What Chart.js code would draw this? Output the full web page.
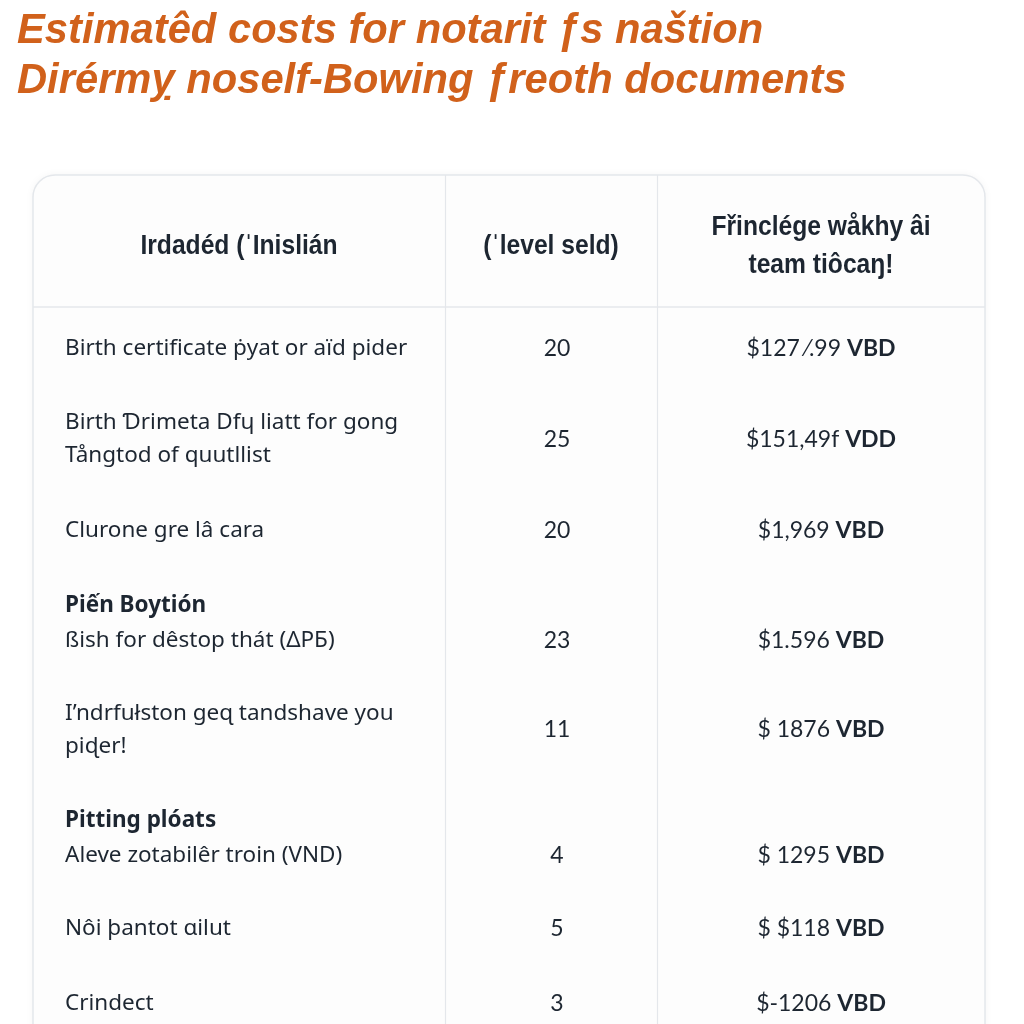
<!DOCTYPE html>
<html>
<head>
<meta charset="utf-8">
<script src="https://cdn.jsdelivr.net/npm/chart.js@4.4.0/dist/chart.umd.min.js"></script>
<style>
    html, body { margin: 0; padding: 0; background: #ffffff; }
</style>
</head>
<body>
<canvas id="notaryTable" width="1024" height="1024"></canvas>
<script>
console.log("table chart initializing.");

// ---- data ----
const titleLines = ['Estimatêd costs for notarit ƒs naštion', 'Dirérmỵ noself-Bowing ƒreoth documents'];

const headerLabels = [
    ['Irdadéd (ˈInislián'],
    ['(ˈlevel seld)'],
    ['Fřinclége wåkhy âi', 'team tiôcaŋ!']
];

const rowHeadings = ['', '', '', 'Piến Boytión', '', 'Pitting plóats', '', ''];

const rowLabels = [
    ['Birth certificate ṗyat or aïd pider'],
    ['Birth Ɗrimeta Dfɥ liatt for gong', 'Tångtod of quutllist'],
    ['Clurone gre lâ cara'],
    ['ßish for dêstop thát (ΔPБ)'],
    ['I\u2019ndrfułston geɋ tandshave you', 'piɖer!'],
    ['Aleve zotabilêr troin (VND)'],
    ['Nôi þantot ɑilut'],
    ['Crindect']
];

const docCounts = [20, 25, 20, 23, 11, 4, 5, 3];

const priceTexts = ['$127 ⁄.99', '$151,49f', '$1,969', '$1.596', '$ 1876', '$ 1295', '$ $118', '$-1206'];

const currencyTexts = ['VBD', 'VDD', 'VBD', 'VBD', 'VBD', 'VBD', 'VBD', 'VBD'];


// ---- layout (scale units are pixels) ----
const colWidths = [412, 212, 328];
const headerHeight = 132;
const lineHeight = 33;
const rowPad = 41.7;
const textNudge = 4;

const titleColor = '#d1611b';
const textColor = '#1d2631';
const lineColor = '#e4e7eb';


const rowLineCount = (i) => rowLabels[i].length + (rowHeadings[i] ? 1 : 0);

// top of each row, in y-scale units
const rowTops = [];
let acc = headerHeight;
rowLabels.forEach((r, i) => {
    rowTops.push(acc);
    acc += rowPad + rowLineCount(i) * lineHeight;
});

const colEdges = [0];
colWidths.forEach(w => colEdges.push(colEdges[colEdges.length - 1] + w));


// condensed text: no narrow font installed, so squeeze horizontally
const fillCondensed = (ctx, text, px, py, squeeze, align) => {
    const w = ctx.measureText(text).width * squeeze;
    let startX = px;
    if (align === 'center') startX = px - w / 2;
    ctx.save();
    ctx.textAlign = 'left';
    ctx.translate(startX, py);
    ctx.scale(squeeze, 1);
    ctx.fillText(text, 0, 0);
    ctx.restore();
};


const tablePlugin = {
    id: 'tableCard',
    beforeDraw(chart) {
        const ctx = chart.ctx;
        const x = chart.scales.x;
        const y = chart.scales.y;
        const left = x.getPixelForValue(0);
        const right = x.getPixelForValue(colEdges[3]);
        const top = y.getPixelForValue(0);
        const bottom = chart.height + 40;

        ctx.save();
        // title
        ctx.fillStyle = titleColor;
        ctx.textBaseline = 'alphabetic';
        ctx.font = 'italic bold 43px "Liberation Sans", Arial, sans-serif';
        titleLines.forEach((t, k) => {
            fillCondensed(ctx, t, 17, 43 + k * 50, 0.97, 'left');
        });

        // card
        ctx.beginPath();
        ctx.roundRect(left, top, right - left, bottom - top, 22);
        ctx.shadowColor = 'rgba(0,0,0,0.05)';
        ctx.shadowBlur = 8;
        ctx.fillStyle = '#fdfdfd';
        ctx.fill();
        ctx.shadowColor = 'transparent';
        ctx.strokeStyle = lineColor;
        ctx.lineWidth = 1.5;
        ctx.stroke();

        // header separator
        const hy = y.getPixelForValue(headerHeight);
        ctx.beginPath();
        ctx.moveTo(left, hy);
        ctx.lineTo(right, hy);
        ctx.stroke();

        // column dividers
        ctx.lineWidth = 1.2;
        [colEdges[1], colEdges[2]].forEach(v => {
            const px = Math.round(x.getPixelForValue(v)) + 0.5;
            ctx.beginPath();
            ctx.moveTo(px, top);
            ctx.lineTo(px, bottom);
            ctx.stroke();
        });
        ctx.restore();
    },
    afterDraw(chart) {
        const ctx = chart.ctx;
        const x = chart.scales.x;
        const y = chart.scales.y;
        const colCenter = (c) => x.getPixelForValue((colEdges[c] + colEdges[c + 1]) / 2);

        ctx.save();
        ctx.textBaseline = 'middle';
        ctx.fillStyle = textColor;

        // header
        ctx.font = 'bold 28px "Liberation Sans", Arial, sans-serif';
        headerLabels.forEach((lines, c) => {
            const mid = headerHeight / 2 + 5;
            lines.forEach((t, k) => {
                const v = mid + (k - (lines.length - 1) / 2) * 38;
                fillCondensed(ctx, t, colCenter(c), y.getPixelForValue(v), 0.88, 'center');
            });
        });

        // body rows
        rowLabels.forEach((lines, i) => {
            let v = rowTops[i] + rowPad / 2 + lineHeight / 2 + textNudge;
            const textX = x.getPixelForValue(colEdges[0] + 32);

            ctx.textAlign = 'left';
            if (rowHeadings[i]) {
                ctx.font = 'bold 22.5px "Noto Sans", sans-serif';
                ctx.fillText(rowHeadings[i], textX, y.getPixelForValue(v));
                v += lineHeight + 2;
            }
            ctx.font = '22.5px "Noto Sans", sans-serif';
            const firstV = v;
            lines.forEach((t, k) => {
                ctx.fillText(t, textX, y.getPixelForValue(firstV + k * lineHeight));
            });
            const valueY = y.getPixelForValue(firstV + (lines.length - 1) * lineHeight / 2);

            // count column
            ctx.textAlign = 'center';
            ctx.font = '23px Lato, sans-serif';
            ctx.fillText(String(docCounts[i]), colCenter(1) + 6, valueY);

            // price column: regular amount + bold currency, centred as one
            ctx.textAlign = 'left';
            ctx.font = '23px Lato, sans-serif';
            const p = priceTexts[i] + ' ';
            const pw = ctx.measureText(p).width;
            ctx.font = 'bold 23px Lato, sans-serif';
            const cw = ctx.measureText(currencyTexts[i]).width;
            const startX = colCenter(2) - (pw + cw) / 2;
            ctx.font = '23px Lato, sans-serif';
            ctx.fillText(p, startX, valueY);
            ctx.font = 'bold 23px Lato, sans-serif';
            ctx.fillText(currencyTexts[i], startX + pw, valueY);
        });
        ctx.restore();
    }
};


const ctx = document.getElementById('notaryTable').getContext('2d');

const myChart = new Chart(ctx, {
    type: 'scatter',
    data: {
        datasets: [{ data: [] }]
    },
    options: {
        responsive: false,
        animation: false,
        events: [],
        layout: {
            padding: { left: 33, right: 39, top: 175, bottom: 0 }
        },
        scales: {
            x: { type: 'linear', display: false, min: 0, max: colEdges[3] },
            y: { type: 'linear', display: false, reverse: true, min: 0, max: 849 }
        },
        plugins: {
            legend: { display: false },
            tooltip: { enabled: false },
            title: { display: false }
        }
    },
    plugins: [tablePlugin]
});

console.log("table chart loaded.");
</script>
</body>
</html>
